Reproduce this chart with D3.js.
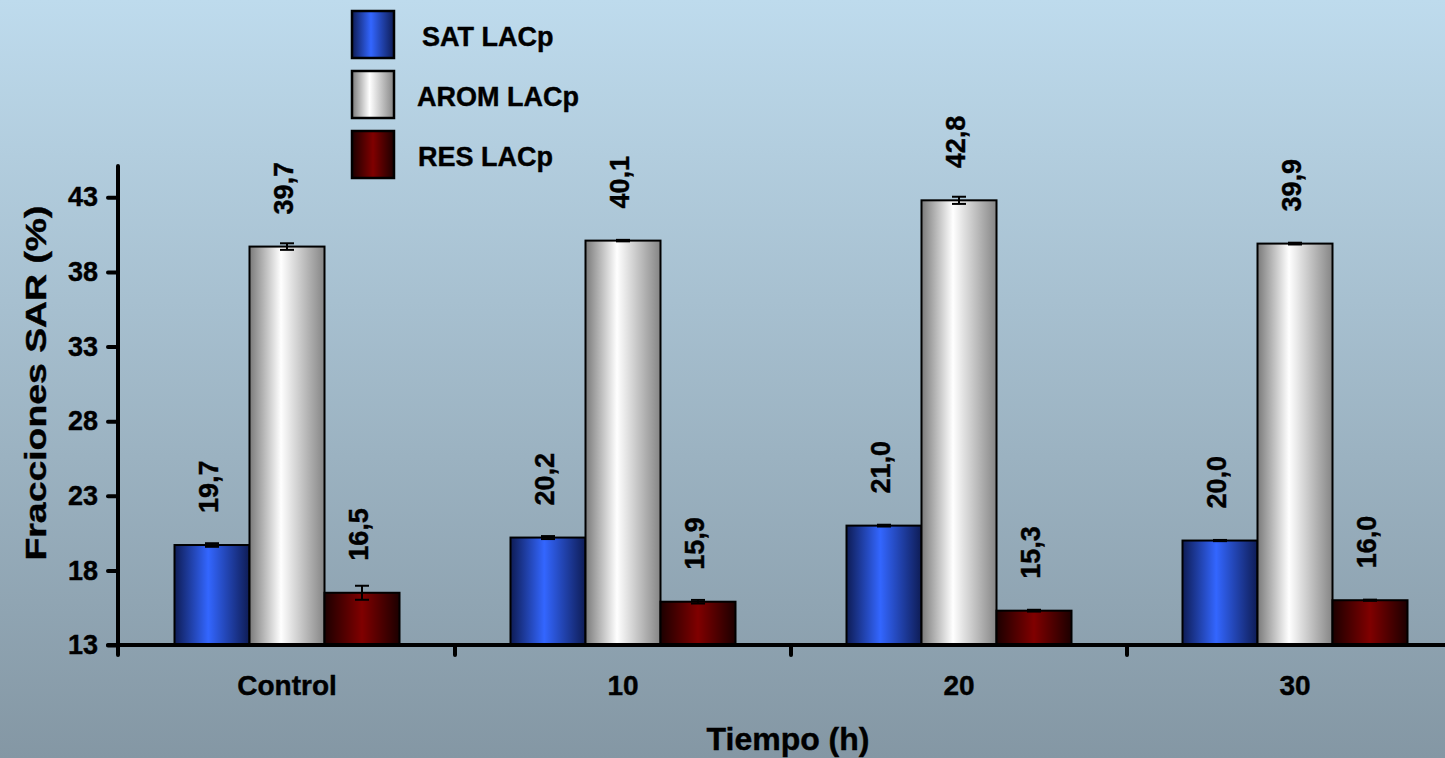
<!DOCTYPE html>
<html>
<head>
<meta charset="utf-8">
<script src="https://cdn.jsdelivr.net/npm/d3@7"></script>
<style>
  html, body { margin: 0; padding: 0; }
  body { width: 1445px; height: 758px; overflow: hidden; }
  svg text { font-family: "Liberation Sans", Arial, sans-serif; font-weight: bold; fill: #000; stroke: #000; stroke-width: 0.4px; }
</style>
</head>
<body>
<svg id="chart" width="1445" height="758"></svg>
<script>
// Fracciones SAR por tiempo de tratamiento
const categories = ["Control", "10", "20", "30"];
const seriesNames = ["SAT LACp", "AROM LACp", "RES LACp"];
const satValues  = [19.7, 20.2, 21.0, 20.0];
const aromValues = [39.7, 40.1, 42.8, 39.9];
const resValues  = [16.5, 15.9, 15.3, 16.0];
const satErr  = [0.12, 0.10, 0.06, 0.04];
const aromErr = [0.22, 0.05, 0.24, 0.06];
const resErr  = [0.47, 0.12, 0.06, 0.04];
const yTicks = [13, 18, 23, 28, 33, 38, 43];

const values = [satValues, aromValues, resValues];
const errors = [satErr, aromErr, resErr];
const fills = ["gSat", "gArom", "gRes"];

const svg = d3.select("#chart");
const W = 1445, H = 758;

const defs = svg.append("defs");
const bg = defs.append("linearGradient").attr("id", "bg")
  .attr("x1", 0).attr("y1", 0).attr("x2", 0).attr("y2", 1);
bg.append("stop").attr("offset", "0%").attr("stop-color", "#bedbed");
bg.append("stop").attr("offset", "100%").attr("stop-color", "#8497a4");

function barGradient(id, edgeL, mid, edgeR, midPos) {
  const g = defs.append("linearGradient").attr("id", id)
    .attr("x1", 0).attr("y1", 0).attr("x2", 1).attr("y2", 0);
  g.append("stop").attr("offset", "0%").attr("stop-color", edgeL);
  g.append("stop").attr("offset", midPos).attr("stop-color", mid);
  g.append("stop").attr("offset", "100%").attr("stop-color", edgeR);
}
barGradient("gSat", "#0e1c55", "#3366ff", "#0e1c55", "45%");
barGradient("gArom", "#7a7a7a", "#ffffff", "#858585", "42%");
barGradient("gRes", "#1c0000", "#800000", "#1c0000", "50%");

svg.append("rect").attr("width", W).attr("height", H).attr("fill", "url(#bg)");

// Scales
const x0 = d3.scaleBand().domain(categories).range([119, 1463]).padding(0);
const x1 = d3.scaleBand().domain(seriesNames).range([0, x0.bandwidth()])
  .paddingInner(0).paddingOuter(0.74);
const y = d3.scaleLinear().domain([13, 45.1]).range([645, 166]);

// Bars
const groups = svg.append("g").selectAll("g")
  .data(categories).join("g")
  .attr("transform", d => `translate(${x0(d)},0)`);

seriesNames.forEach((s, si) => {
  groups.append("rect")
    .attr("x", x1(s))
    .attr("y", (d, i) => y(values[si][i]))
    .attr("width", x1.bandwidth())
    .attr("height", (d, i) => y(13) - y(values[si][i]))
    .attr("fill", `url(#${fills[si]})`)
    .attr("stroke", "#000").attr("stroke-width", 2);

  // error bars
  const cx = x1(s) + x1.bandwidth() / 2;
  const eb = groups.append("g").attr("stroke", "#000").attr("stroke-width", 2);
  eb.append("line").attr("x1", cx).attr("x2", cx)
    .attr("y1", (d, i) => y(values[si][i] + errors[si][i]))
    .attr("y2", (d, i) => y(values[si][i] - errors[si][i]));
  eb.append("line").attr("x1", cx - 7).attr("x2", cx + 7)
    .attr("y1", (d, i) => y(values[si][i] + errors[si][i]))
    .attr("y2", (d, i) => y(values[si][i] + errors[si][i]));
  eb.append("line").attr("x1", cx - 7).attr("x2", cx + 7)
    .attr("y1", (d, i) => y(values[si][i] - errors[si][i]))
    .attr("y2", (d, i) => y(values[si][i] - errors[si][i]));

  // value labels, rotated
  groups.append("text")
    .attr("transform", (d, i) => `translate(${cx + 6},${y(values[si][i]) - 32}) rotate(-90)`)
    .attr("font-size", 27)
    .attr("text-anchor", "start")
    .text((d, i) => values[si][i].toFixed(1).replace(".", ","));
});

// Axes
const axisG = svg.append("g");
const yAxis = d3.axisLeft(y).tickValues(yTicks).tickSize(10).tickPadding(10);
const ya = axisG.append("g").attr("transform", "translate(118,0)").call(yAxis);
ya.select(".domain").remove();
ya.selectAll(".tick line").attr("stroke", "#000").attr("stroke-width", 4).attr("stroke-linecap", "round");
ya.selectAll(".tick text").attr("font-size", 27).attr("font-family", "Liberation Sans, Arial, sans-serif")
  .attr("font-weight", "bold").attr("fill", "#000");
axisG.append("line").attr("x1", 118).attr("x2", 118).attr("y1", y.range()[1]).attr("y2", 655)
  .attr("stroke", "#000").attr("stroke-width", 4).attr("stroke-linecap", "round");

const xAxis = d3.axisBottom(x0).tickSize(0).tickPadding(30);
const xa = axisG.append("g").attr("transform", "translate(0,645)").call(xAxis);
xa.select(".domain").remove();
xa.selectAll(".tick text").attr("font-size", 28).attr("font-family", "Liberation Sans, Arial, sans-serif")
  .attr("font-weight", "bold").attr("fill", "#000");
axisG.append("line").attr("x1", 108).attr("x2", W + 10).attr("y1", 645).attr("y2", 645)
  .attr("stroke", "#000").attr("stroke-width", 4).attr("stroke-linecap", "round");
// category boundary ticks
axisG.selectAll("line.xb").data(categories.slice(1)).join("line")
  .attr("class", "xb")
  .attr("x1", d => x0(d)).attr("x2", d => x0(d))
  .attr("y1", 645).attr("y2", 655)
  .attr("stroke", "#000").attr("stroke-width", 4).attr("stroke-linecap", "round");

// Axis titles
svg.append("text")
  .attr("transform", "translate(46,383) rotate(-90)")
  .attr("text-anchor", "middle")
  .attr("font-size", 29)
  .attr("textLength", 355)
  .attr("lengthAdjust", "spacingAndGlyphs")
  .text("Fracciones SAR (%)");

svg.append("text")
  .attr("x", 788).attr("y", 750)
  .attr("text-anchor", "middle")
  .attr("font-size", 32)
  .text("Tiempo (h)");

// Legend
const legend = svg.append("g");
const legendY = [11, 71, 131];
const legendTextX = [422, 417, 418];
seriesNames.forEach((s, i) => {
  legend.append("rect")
    .attr("x", 352).attr("y", legendY[i])
    .attr("width", 42).attr("height", 47)
    .attr("fill", `url(#${fills[i]})`)
    .attr("stroke", "#000").attr("stroke-width", 2.5);
  legend.append("text")
    .attr("x", legendTextX[i]).attr("y", legendY[i] + 35)
    .attr("font-size", 27)
    .text(s);
});
</script>
</body>
</html>
